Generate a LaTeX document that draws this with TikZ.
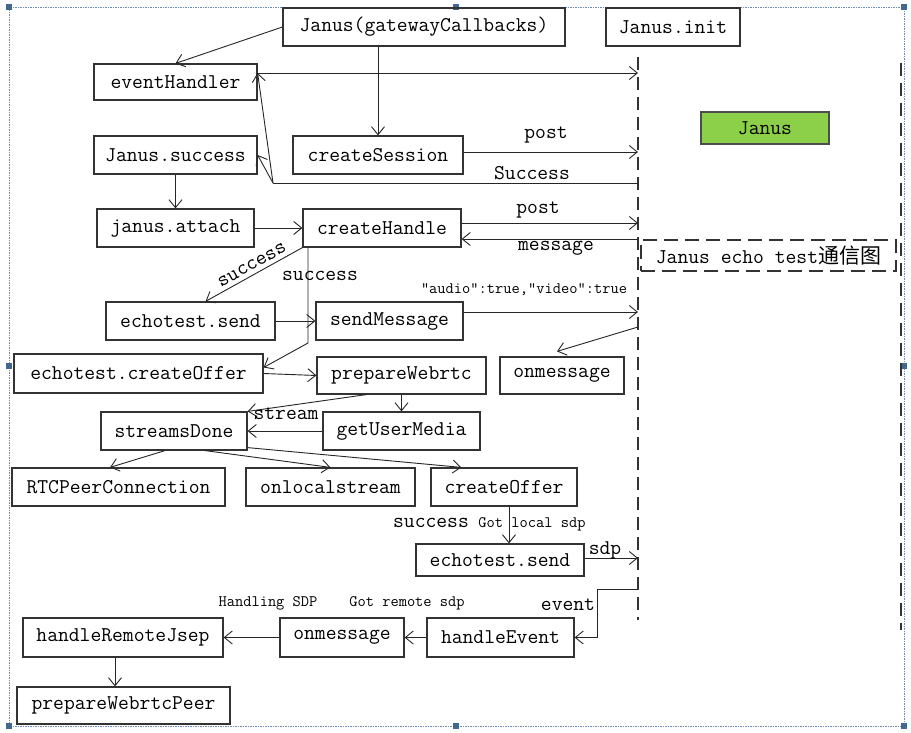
\documentclass[tikz,border=0pt]{standalone}
\usepackage{fontspec}
\newfontfamily\cjk{Noto Sans CJK SC}
\usetikzlibrary{arrows.meta,calc}
\definecolor{janusgreen}{RGB}{140,208,74}
\definecolor{framecol}{RGB}{110,140,175}
\definecolor{handlecol}{RGB}{65,105,143}
\newcommand\dgmain{\ttfamily\fontsize{21}{24}\selectfont}
\newcommand\dgsmall{\ttfamily\fontsize{16}{18}\selectfont}
\begin{document}
\begin{tikzpicture}[x=1pt,y=-1pt,
  box/.style={draw=black!80, line width=1.2pt, inner sep=0pt, font=\dgmain},
  sz/.style n args={2}{minimum width=#1pt, minimum height=#2pt},
  arr/.style={draw=black!85, line width=0.9pt, -{Straight Barb[length=8pt,width=13pt,line width=0.9pt]}},
  ln/.style={draw=black!85, line width=0.9pt},
  life/.style={draw=black!80, line width=1.2pt, dash pattern=on 13pt off 7pt},
  lbl/.style={font=\dgmain, inner sep=0pt},
  sl/.style={font=\dgsmall, inner sep=0pt}]
\useasboundingbox (0,0) rectangle (911,733);
\fill[white] (0,0) rectangle (911,733);
% selection frame
\draw[framecol, line width=0.6pt, dash pattern=on 1.5pt off 1pt] (9,7) rectangle (904,726);
\foreach \px/\py in {9/7,456/7,904/7,9/366,904/366,9/726,456/726,904/726}
  \fill[handlecol] (\px-3,\py-3) rectangle (\px+3,\py+3);
% lifelines
\draw[life] (638,57) -- (638,620);
\draw[life] (901,63) -- (901,630);
% nodes
\node[box, sz={282}{38}] (jgc) at (424,27) {Janus(gatewayCallbacks)};
\node[box, sz={134}{38}] (jinit) at (673,27) {Janus.init};
\node[box, sz={163}{36}] (evh) at (175.5,82) {eventHandler};
\node[box, sz={163}{38}] (jsucc) at (175.5,155) {Janus.success};
\node[box, sz={170}{38}] (cses) at (378,155) {createSession};
\node[box, sz={128}{32}, fill=janusgreen, draw=black!70] (janus) at (765,128) {Janus};
\node[box, sz={157}{38}] (jatt) at (175.5,228) {janus.attach};
\node[box, sz={158}{38}] (chand) at (382,228) {createHandle};
\node[box, sz={169}{38}] (esend) at (190.5,321) {echotest.send};
\node[box, sz={147}{38}] (smsg) at (389.5,321) {sendMessage};
\node[box, sz={249}{39}] (ecoff) at (138.5,373.5) {echotest.createOffer};
\node[box, sz={169}{37}] (pweb) at (401.5,375.5) {prepareWebrtc};
\node[box, sz={124}{37}] (onm1) at (562,375.5) {onmessage};
\node[box, sz={255}{31}, dash pattern=on 14pt off 7pt] (title) at (768.5,255.5) {Janus echo test{\cjk 通信图}};
\node[box, sz={146}{38}] (sdone) at (174,431) {streamsDone};
\node[box, sz={157}{38}] (gum) at (401.5,431) {getUserMedia};
\node[box, sz={213}{38}] (rtc) at (118.5,487) {RTCPeerConnection};
\node[box, sz={169}{38}] (onls) at (330.5,487) {onlocalstream};
\node[box, sz={146}{38}] (coff) at (504,487) {createOffer};
\node[box, sz={168}{32}] (esend2) at (500,560) {echotest.send};
\node[box, sz={147}{39}] (hev) at (500.5,637.5) {handleEvent};
\node[box, sz={124}{39}] (onm2) at (342,637.5) {onmessage};
\node[box, sz={200}{39}] (hrj) at (123,637.5) {handleRemoteJsep};
\node[box, sz={213}{37}] (pwp) at (123.5,705.5) {prepareWebrtcPeer};
% lifeline points
\coordinate (L73) at (638,73);
\coordinate (L152) at (638,152);
\coordinate (L183) at (638,183);
\coordinate (L223) at (638,223);
\coordinate (L239) at (638,239);
\coordinate (L312) at (638,312);
\coordinate (L327) at (638,327);
\coordinate (L558) at (638,558);
\coordinate (L589) at (638,589);
\coordinate (S) at (273,183);
\coordinate (K) at (308,343);
\coordinate (E) at (597,589);
\coordinate (CX) at (509,0);
% connectors
\draw[arr] (jgc.west) -- (evh.north);
\draw[arr] (jgc.south -| cses.north) -- (cses.north);
\draw[arr] (evh.east |- L73) -- (L73);
\draw[ln] (L183) -- (S);
\draw[arr] (S) -- (evh.east |- L73);
\draw[arr] (S) -- (jsucc.east);
\draw[arr] (cses.east |- L152) -- (L152);
\draw[arr] (jsucc.south) -- (jatt.north);
\draw[arr] (jatt.east) -- (chand.west);
\draw[arr] (chand.east |- L223) -- (L223);
\draw[arr] (L239) -- (chand.east |- L239);
\draw[arr] (chand.south west) -- ($(esend.north)+(15,0)$);
\draw[arr] (chand.south west -| K) -- (K) -- ($(ecoff.east)+(0,-6)$);
\draw[arr] (esend.east) -- (smsg.west);
\draw[arr] (smsg.east |- L312) -- (L312);
\draw[arr] (L327) -- ($(onm1.north)+(-5,-5)$);
\draw[arr] (ecoff.east) -- (pweb.west);
\draw[arr] (pweb.south -| gum.north) -- (gum.north);
\draw[arr] ($(pweb.south west)+(50,0)$) -- (sdone.north east);
\draw[arr] (gum.west) -- (sdone.east);
\draw[arr] ($(sdone.south)+(-9,0)$) -- ($(rtc.north)+(-8.5,0)$);
\draw[arr] ($(sdone.south)+(31,0)$) -- (onls.north);
\draw[arr] ($(sdone.south east)+(0,-3)$) -- ($(coff.north west)+(31,0)$);
\draw[arr] (coff.south -| CX) -- (esend2.north -| CX);
\draw[arr] (esend2.east |- L558) -- (L558);
\draw[arr] (L589) -- (E) |- (hev.east);
\draw[arr] (hev.west) -- (onm2.east);
\draw[arr] (onm2.west) -- (hrj.east);
\draw[arr] ($(hrj.south)+(-8,0)$) -- ($(pwp.north)+(-8.5,0)$);
% labels
\node[lbl] (lpost1) at (546,135) {post};
\node[lbl] (lsuc0) at (532,173) {Success};
\node[lbl] (lpost2) at (538,210) {post};
\node[lbl] (lmsg) at (556,248) {message};
\node[lbl, rotate=29] (lsucc1) at (252,265) {success};
\node[lbl] (lsucc2) at (320,276) {success};
\node[sl] (laudio) at (524,290) {"audio":true,"video":true};
\node[lbl] (lstream) at (286,414) {stream};
\node[lbl] (lsucc3) at (431,523) {success};
\node[sl] (lgot) at (532,524) {Got local sdp};
\node[lbl] (lsdp) at (605,550) {sdp};
\node[lbl] (levent) at (568,605) {event};
\node[sl] (lhand) at (268,603) {Handling SDP};
\node[sl] (lgotr) at (407,603) {Got remote sdp};
\end{tikzpicture}
\end{document}
